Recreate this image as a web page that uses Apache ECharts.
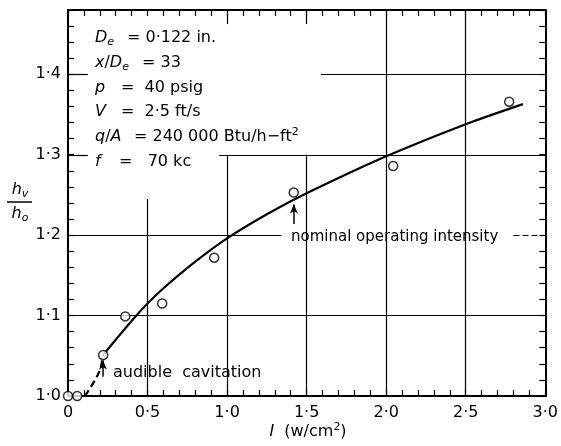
<!DOCTYPE html>
<html>
<head>
<meta charset="utf-8">
<script src="https://cdn.jsdelivr.net/npm/echarts@6/dist/echarts.min.js"></script>
<style>
    html, body { margin: 0; padding: 0; background: #fff; }
    #main { width: 561px; height: 446px; }
</style>
</head>
<body>
<div id="main"></div>
<script>
// measured points (intensity w/cm2, hv/ho)
var pointX = [0, 0.058, 0.221, 0.36, 0.592, 0.919, 1.419, 2.044, 2.773];
var pointY = [1.0, 1.0, 1.051, 1.099, 1.115, 1.172, 1.253, 1.286, 1.366];

// faired curve, solid part
var curveX = [0.221, 0.3, 0.42, 0.5, 0.6, 0.8, 1.0, 1.25, 1.5, 2.0, 2.5, 2.86];
var curveY = [1.051, 1.07, 1.098, 1.115, 1.134, 1.167, 1.196, 1.226, 1.252, 1.298, 1.338, 1.363];

// dashed onset near cavitation
var onsetX = [0.106, 0.17, 0.204, 0.221];
var onsetY = [1.0, 1.02, 1.035, 1.051];

var FONT = "'DejaVu Sans', sans-serif";

function zip(xs, ys) {
    var arr = [];
    for (var i = 0; i < xs.length; i++) {
        arr.push([xs[i], ys[i]]);
    }
    return arr;
}

function dotLabel(v) {
    if (v === 0) return "0";
    return v.toFixed(1).replace(".", "\u00b7");
}

function seg(x1, y1, x2, y2, dashed) {
    var s = [{ coord: [x1, y1] }, { coord: [x2, y2] }];
    if (dashed) s[0].lineStyle = { type: [6, 3] };
    return s;
}

// partial grid lines as drawn in the original figure
var gridSegs = [
    seg(0.5, 1.0, 0.5, 1.245),
    seg(1.0, 1.0, 1.0, 1.3),
    seg(1.5, 1.0, 1.5, 1.3),
    seg(2.0, 1.0, 2.0, 1.48),
    seg(2.5, 1.0, 2.5, 1.48),
    seg(0, 1.1, 3.0, 1.1),
    seg(0, 1.2, 1.34, 1.2),
    seg(2.8, 1.2, 3.0, 1.2, true),
    seg(0, 1.3, 0.125, 1.3),
    seg(0.95, 1.3, 3.0, 1.3),
    seg(0, 1.4, 0.125, 1.4),
    seg(1.59, 1.4, 3.0, 1.4),
    seg(1.0, 1.48, 1.0, 1.4625),
    seg(1.5, 1.48, 1.5, 1.4625)
];

var arrowSegs = [
    seg(0.22, 1.024, 0.22, 1.044),
    seg(1.42, 1.214, 1.42, 1.238)
];

var richBase = {
    n: { font: "16px " + FONT, fill: "#000", lineHeight: 20 },
    i: { font: "italic 16px " + FONT, fill: "#000", lineHeight: 20 },
    sub: { font: "italic 11px " + FONT, fill: "#000", lineHeight: 10, verticalAlign: "bottom" },
    sup: { font: "11px " + FONT, fill: "#000", lineHeight: 10, verticalAlign: "top" }
};

function txt(x, y, text, align, size) {
    var fs = size || 16;
    return {
        type: "text",
        x: x,
        y: y,
        style: {
            text: text,
            font: fs + "px " + FONT,
            fill: "#000",
            align: align || "left",
            verticalAlign: "middle",
            rich: richBase
        },
        z: 10
    };
}

var chart = echarts.init(document.getElementById("main"));

var option = {
    backgroundColor: "#fff",
    animation: false,
    grid: { left: 68, right: 14, top: 10, bottom: 50 },
    xAxis: [{
        type: "value",
        min: 0,
        max: 3.0,
        interval: 0.1,
        position: "bottom",
        axisLine: { show: true, onZero: false, lineStyle: { color: "#000", width: 2 } },
        axisTick: { show: true, inside: true, length: 6, lineStyle: { color: "#000", width: 1.2 } },
        axisLabel: {
            show: true,
            margin: 9,
            color: "#000",
            fontFamily: FONT,
            fontSize: 16,
            formatter: function (v) {
                var r = Math.round(v * 10);
                return r % 5 === 0 ? dotLabel(r / 10) : "";
            }
        },
        splitLine: { show: false }
    }, {
        type: "value",
        min: 0,
        max: 3.0,
        interval: 0.1,
        position: "top",
        axisLine: { show: true, onZero: false, lineStyle: { color: "#000", width: 2 } },
        axisTick: { show: true, inside: true, length: 6, lineStyle: { color: "#000", width: 1.2 } },
        axisLabel: { show: false },
        splitLine: { show: false }
    }],
    yAxis: [{
        type: "value",
        min: 1.0,
        max: 1.48,
        interval: 0.02,
        position: "left",
        axisLine: { show: true, onZero: false, lineStyle: { color: "#000", width: 2 } },
        axisTick: { show: true, inside: true, length: 6, lineStyle: { color: "#000", width: 1.2 } },
        axisLabel: {
            show: true,
            margin: 7,
            color: "#000",
            fontFamily: FONT,
            fontSize: 16,
            formatter: function (v) {
                var r = Math.round(v * 100);
                return r % 10 === 0 ? dotLabel(r / 100) : "";
            }
        },
        splitLine: { show: false }
    }, {
        type: "value",
        min: 1.0,
        max: 1.48,
        interval: 0.02,
        position: "right",
        axisLine: { show: true, onZero: false, lineStyle: { color: "#000", width: 2 } },
        axisTick: { show: true, inside: true, length: 6, lineStyle: { color: "#000", width: 1.2 } },
        axisLabel: { show: false },
        splitLine: { show: false }
    }],
    series: [{
        // grid segments live on an empty helper series
        type: "line",
        data: [],
        silent: true,
        markLine: {
            silent: true,
            symbol: ["none", "none"],
            label: { show: false },
            lineStyle: { color: "#000", width: 1.2, type: "solid" },
            data: gridSegs,
            z: 1
        }
    }, {
        type: "line",
        data: [],
        silent: true,
        markLine: {
            silent: true,
            symbol: ["none", "arrow"],
            symbolSize: [6, 9],
            label: { show: false },
            lineStyle: { color: "#000", width: 1.5, type: "solid" },
            data: arrowSegs
        }
    }, {
        type: "line",
        data: zip(curveX, curveY),
        smooth: 0.3,
        showSymbol: false,
        lineStyle: { color: "#000", width: 2.2 },
        z: 3
    }, {
        type: "line",
        data: zip(onsetX, onsetY),
        smooth: 0.5,
        showSymbol: false,
        lineStyle: { color: "#000", width: 2.2, type: [7, 4] },
        z: 3
    }, {
        type: "scatter",
        data: zip(pointX, pointY),
        symbol: "circle",
        symbolSize: 9,
        itemStyle: { color: "#fff", borderColor: "#000", borderWidth: 1.5 },
        z: 5
    }],
    graphic: [
        // parameter block
        txt(95, 38, "{i|D}{sub|e}"),
        txt(127, 38, "= 0\u00b7122 in."),
        txt(95, 63, "{i|x}{n|/}{i|D}{sub|e}"),
        txt(142, 63, "= 33"),
        txt(95, 88, "{i|p}"),
        txt(121, 88, "=  40 psig"),
        txt(95, 112, "{i|V}"),
        txt(121, 112, "=  2\u00b75 ft/s"),
        txt(95, 137, "{i|q}{n|/}{i|A}"),
        txt(134, 137, "{n|= 240 000 Btu/h\u2212ft}{sup|2}"),
        txt(95, 162, "{i|f}"),
        txt(119, 162, "=   70 kc"),
        // annotations
        txt(113, 373, "audible  cavitation"),
        txt(291, 237, "nominal operating intensity", "left", 15),
        // axis titles
        txt(308, 432, "{i|I}{n|  (w/cm}{sup|2}{n|)}", "center"),
        txt(20, 190, "{i|h}{sub|v}", "center"),
        {
            type: "line",
            shape: { x1: 7, y1: 202, x2: 32, y2: 202 },
            style: { stroke: "#000", lineWidth: 1.5 }
        },
        txt(20, 214, "{i|h}{sub|o}", "center")
    ]
};

chart.setOption(option);
</script>
</body>
</html>
